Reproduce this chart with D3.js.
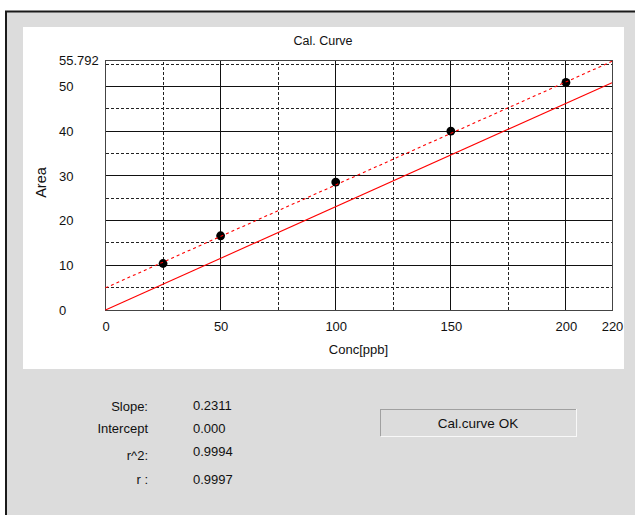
<!DOCTYPE html>
<html>
<head>
<meta charset="utf-8">
<script src="https://cdn.jsdelivr.net/npm/d3@7"></script>
<style>
  body { margin: 0; background: #fff; }
  svg { display: block; font-family: Arial, "Liberation Sans", sans-serif; }
</style>
</head>
<body>
<div id="chart"></div>
<script>
// calibration standards
const concX = [25, 50, 100, 150, 200];
const areaY = [10.4, 16.6, 28.6, 40.0, 50.9];

// lines: calibration curve (through origin) and raw fit, as end points
const calLineX = [0, 220];
const calLineY = [0, 50.84];
const fitLineX = [0, 220];
const fitLineY = [4.95, 55.6];

const xTicks = [0, 50, 100, 150, 200, 220];
const yTicks = [0, 10, 20, 30, 40, 50, 55.792];
const xMajor = [50, 100, 150, 200];
const xMinor = [25, 75, 125, 175];
const yMajor = [10, 20, 30, 40, 50];
const yMinor = [5, 15, 25, 35, 45, 55];

const statLabels = ["Slope:", "Intercept", "r^2:", "r :"];
const statValues = ["0.2311", "0.000", "0.9994", "0.9997"];

const width = 635, height = 515;

const svg = d3.select("#chart").append("svg")
  .attr("width", width)
  .attr("height", height);

// window frame
svg.append("rect").attr("x", 6).attr("y", 11).attr("width", width).attr("height", height)
  .attr("fill", "#dcdcdc");
svg.append("line").attr("x1", 6).attr("x2", 6).attr("y1", 11).attr("y2", height)
  .attr("stroke", "#1a1a1a").attr("stroke-width", 2);
svg.append("line").attr("x1", 5).attr("x2", width).attr("y1", 11.5).attr("y2", 11.5)
  .attr("stroke", "#1a1a1a").attr("stroke-width", 2);
svg.append("rect").attr("x", 23).attr("y", 27).attr("width", 601).attr("height", 342)
  .attr("fill", "#fff");

const x = d3.scaleLinear().domain([0, 220]).range([105.5, 612]);
const y = d3.scaleLinear().domain([0, 55.792]).range([310, 60.5]);

const plot = svg.append("g");

// grid
const grid = plot.append("g").attr("shape-rendering", "crispEdges");
grid.selectAll(".ymin").data(yMinor).join("line")
  .attr("x1", x(0)).attr("x2", x(220))
  .attr("y1", d => y(d)).attr("y2", d => y(d))
  .attr("stroke", "#222").attr("stroke-dasharray", "3,2");
grid.selectAll(".xmin").data(xMinor).join("line")
  .attr("y1", y(0)).attr("y2", y(55.792))
  .attr("x1", d => x(d)).attr("x2", d => x(d))
  .attr("stroke", "#222").attr("stroke-dasharray", "3,2");
grid.selectAll(".ymaj").data(yMajor).join("line")
  .attr("x1", x(0)).attr("x2", x(220))
  .attr("y1", d => y(d)).attr("y2", d => y(d))
  .attr("stroke", "#111");
grid.selectAll(".xmaj").data(xMajor).join("line")
  .attr("y1", y(0)).attr("y2", y(55.792))
  .attr("x1", d => x(d)).attr("x2", d => x(d))
  .attr("stroke", "#111");
grid.append("rect")
  .attr("x", x(0)).attr("y", y(55.792))
  .attr("width", x(220) - x(0)).attr("height", y(0) - y(55.792))
  .attr("fill", "none").attr("stroke", "#444");

// points
plot.selectAll(".pt").data(concX).join("circle")
  .attr("cx", d => x(d))
  .attr("cy", (d, i) => y(areaY[i]))
  .attr("r", 4.4)
  .attr("fill", "#000");

// lines
const line = d3.line().x(d => x(d[0])).y(d => y(d[1]));
plot.append("path")
  .attr("d", line(calLineX.map((v, i) => [v, calLineY[i]])))
  .attr("fill", "none").attr("stroke", "#ff0000").attr("stroke-width", 1.1);
plot.append("path")
  .attr("d", line(fitLineX.map((v, i) => [v, fitLineY[i]])))
  .attr("fill", "none").attr("stroke", "#ff0000").attr("stroke-width", 1.1)
  .attr("stroke-dasharray", "3,3");

// axes labels
const xAxis = svg.append("g")
  .attr("transform", `translate(0, ${y(0)})`)
  .call(d3.axisBottom(x).tickValues(xTicks).tickSize(0).tickPadding(12).tickFormat(d3.format("d")));
xAxis.select(".domain").remove();
xAxis.selectAll("text").attr("font-size", 13).attr("fill", "#111")
  .attr("font-family", "Arial, 'Liberation Sans', sans-serif");

const yAxis = svg.append("g")
  .attr("transform", `translate(59, 0)`)
  .call(d3.axisLeft(y).tickValues(yTicks).tickSize(0).tickPadding(0)
    .tickFormat(d => d === 55.792 ? "55.792" : d3.format("d")(d)));
yAxis.select(".domain").remove();
yAxis.selectAll("text").attr("text-anchor", "start").attr("x", 0)
  .attr("font-size", 13).attr("fill", "#111")
  .attr("font-family", "Arial, 'Liberation Sans', sans-serif");

svg.append("text").attr("x", 323).attr("y", 44.5).attr("text-anchor", "middle")
  .attr("font-size", 12.5).attr("fill", "#111").text("Cal. Curve");
svg.append("text").attr("x", 358.5).attr("y", 353.5).attr("text-anchor", "middle")
  .attr("font-size", 13).attr("fill", "#111").text("Conc[ppb]");
svg.append("text").attr("transform", "translate(46, 182.5) rotate(-90)")
  .attr("text-anchor", "middle").attr("font-size", 14.5).attr("fill", "#111").text("Area");

// statistics
const labelY = [411, 432.5, 459.5, 483.5];
const valueY = [409.5, 432.5, 456, 483.5];
svg.selectAll(".slab").data(statLabels).join("text")
  .attr("x", 148).attr("y", (d, i) => labelY[i])
  .attr("text-anchor", "end").attr("font-size", 13).attr("fill", "#111")
  .text(d => d);
svg.selectAll(".sval").data(statValues).join("text")
  .attr("x", 193).attr("y", (d, i) => valueY[i])
  .attr("font-size", 13).attr("fill", "#111")
  .text(d => d);

// status button
const btn = svg.append("g").attr("shape-rendering", "crispEdges");
btn.append("rect").attr("x", 380).attr("y", 409).attr("width", 196).attr("height", 27)
  .attr("fill", "#dcdcdc");
btn.append("path").attr("d", "M380.5,436 V409.5 H576").attr("fill", "none").attr("stroke", "#a0a0a0");
btn.append("path").attr("d", "M381,436.5 H576.5 V409").attr("fill", "none").attr("stroke", "#f8f8f8");
svg.append("text").attr("x", 478).attr("y", 427.8).attr("text-anchor", "middle")
  .attr("font-size", 13.5).attr("fill", "#111").text("Cal.curve OK");
</script>
</body>
</html>
